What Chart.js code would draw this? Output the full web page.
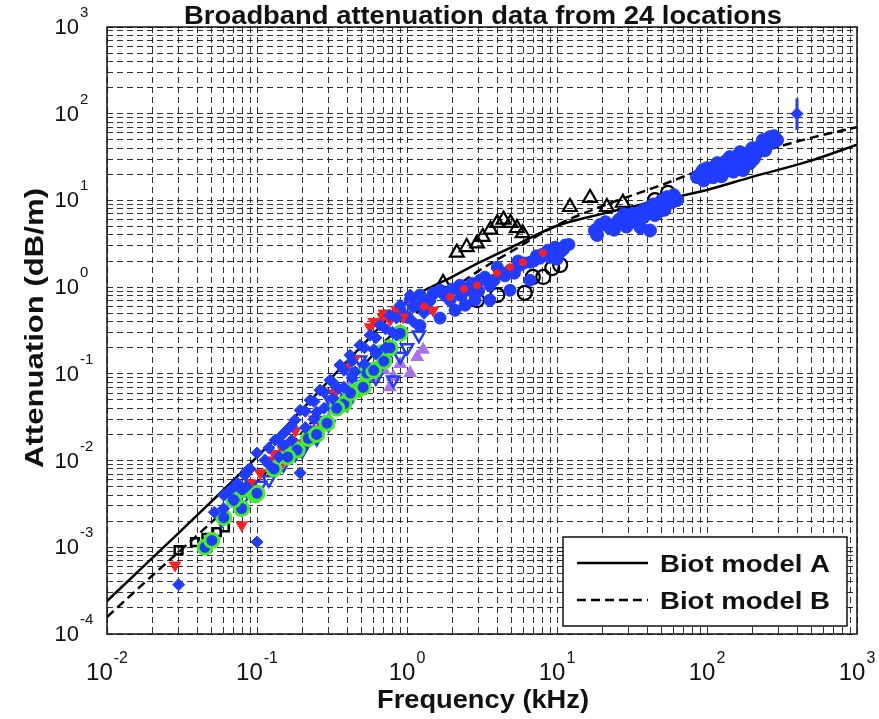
<!DOCTYPE html>
<html><head><meta charset="utf-8">
<script src="https://cdn.jsdelivr.net/npm/chart.js@4.4.1/dist/chart.umd.min.js"></script>
<style>html,body{margin:0;padding:0;background:#fff;overflow:hidden}#wrap{width:879px;height:719px}</style>
</head><body><div id="wrap"><canvas id="c" width="879" height="719"></canvas></div>
<script>
// ---------- text ----------
const titleText = 'Broadband attenuation data from 24 locations';
const xTitle = 'Frequency (kHz)';
const yTitle = 'Attenuation (dB/m)';
const legendLabels = ['Biot model A', 'Biot model B'];
// ---------- ticks ----------
const xDecades = [-2, -1, 0, 1, 2, 3];
const yDecades = [-4, -3, -2, -1, 0, 1, 2, 3];
const minorMult = [1, 2, 3, 4, 5, 6, 7, 8, 9];
// ---------- model curves ----------
const modelFreq = [0.01,0.02,0.03,0.05,0.1,0.2,0.3,0.5,1,2,3,5,10,20,50,100,200,500,1000];
const modelA = [2.4e-4,7.5e-4,1.46e-3,3.4e-3,0.011,0.039,0.083,0.21,0.69,1.31,1.9,2.9,5.1,7.0,10.1,13.2,18.7,29,44];
const modelB = [1.57e-4,4.7e-4,8.8e-4,1.96e-3,5.7e-3,0.021,0.046,0.12,0.42,0.95,1.54,2.6,5.2,8.6,15.1,23.7,34,53,70];
// ---------- measured data (frequency kHz, attenuation dB/m) ----------
const blueStarF = [0.03,0.1,0.052,0.064,0.074,0.083,0.1,0.113,0.132,0.154,0.179,0.194,0.194,0.226,0.263,0.307,0.357,0.417,0.486,0.567,0.66,0.77,0.9,1.05,0.15,0.25,0.35,0.45,0.6,0.8,1.2,1.5,0.09,
  0.06,0.06,0.07,0.07,0.085,0.085,0.12,0.12,0.14,0.14,0.17,0.17,0.21,0.21,0.24,0.24,0.28,0.28,0.32,0.32,0.38,0.38,0.43,0.43,0.52,0.52,0.62,0.62,0.72,0.72,0.85,0.85,1.1,1.1,1.3,1.3,1.6];
const blueStarA = [3.7e-4,1.15e-3,2.54e-3,4.3e-3,5.5e-3,6.8e-3,0.0122,0.0101,0.0172,0.0213,0.0292,0.038,7.2e-3,0.0497,0.0649,0.0846,0.126,0.164,0.214,0.279,0.365,0.475,0.62,0.81,0.015,0.036,0.068,0.105,0.19,0.3,0.62,0.85,8e-3,
  4e-3,2.8e-3,5e-3,3.5e-3,7.5e-3,5e-3,0.014,9e-3,0.018,0.011,0.025,0.017,0.037,0.024,0.048,0.03,0.062,0.04,0.08,0.052,0.11,0.07,0.14,0.09,0.2,0.13,0.26,0.17,0.33,0.2,0.44,0.28,0.6,0.4,0.75,0.5,0.9];
const blueTriF = [0.66,0.81,1.0,0.486,0.417,0.307,0.263,0.226,0.154,0.105,0.069,0.058,0.55,0.72,0.12,0.18,0.35,0.9,1.2,0.08,0.5,0.62,0.15,0.2,0.25,0.3,0.4];
const blueTriA = [0.12,0.085,0.2,0.144,0.105,0.05,0.029,0.0224,0.0132,5.2e-3,4.2e-3,2.06e-3,0.09,0.15,6e-3,0.012,0.06,0.16,0.28,3.5e-3,0.075,0.09,9e-3,0.013,0.018,0.026,0.045];
const redTriF = [0.0284,0.079,0.122,0.105,0.149,0.142,0.203,0.275,0.398,0.567,0.77,0.94,1.49,0.51,0.69,0.33,0.45,0.6,0.7,0.85,1.1,0.18,0.24,0.13,0.09,0.07];
const redTriA = [6.2e-4,1.8e-3,0.0101,7.2e-3,0.0132,8.4e-3,0.0159,0.0243,0.12,0.346,0.416,0.45,0.54,0.102,0.45,0.06,0.15,0.4,0.5,0.55,0.6,0.022,0.03,0.012,5.5e-3,4e-3];
const redDotF = [1.94,2.93,3.98,4.86,5.93,8.07,1.3,2.4];
const redDotA = [0.77,1.05,1.45,1.7,1.94,2.47,0.6,0.95];
const greenF = [0.045,0.05,0.079,0.079,0.097,0.1,0.185,0.293,0.464,0.51,0.66,0.9,0.77,0.54,0.22,0.38,0.13,0.16,0.25,0.34,0.42,0.6,0.7,0.07,0.06];
const greenA = [1.0e-3,1.2e-3,2.8e-3,4.6e-3,4.0e-3,4.2e-3,0.0132,0.027,0.065,0.07,0.173,0.294,0.2,0.102,0.018,0.045,8e-3,0.011,0.02,0.04,0.06,0.11,0.14,3.5e-3,2.2e-3];
const purpleF = [0.398,1.28,0.417,0.77,1.05,0.307,0.398,0.44,1.17,0.81,0.3,0.5,0.6,0.9,0.2,0.7];
const purpleA = [0.05,0.19,0.065,0.07,0.102,0.046,0.06,0.085,0.156,0.092,0.03,0.08,0.09,0.13,0.015,0.11];
const blackSqF = [0.03,0.0386,0.046,0.054,0.061];
const blackSqA = [9.3e-4,1.15e-3,1.28e-3,1.5e-3,1.7e-3];
const blackTriF = [1.74,2.15,2.5,2.93,3.2,3.6,4.0,4.4,4.9,5.4,5.9,12.2,16.6,21.5,27.5];
const blackTriA = [1.12,2.5,2.9,3.2,3.8,4.6,5.5,6.0,5.5,4.8,4.2,8.4,10.7,8.4,9.4];
const blackCircF = [2.93,4.0,6.1,6.9,8.1,9.3,10.5,45,55];
const blackCircA = [0.71,0.81,0.86,1.31,1.31,1.66,1.8,10.1,12.2];
const blueMidF = [0.9,1.05,1.22,1.42,1.66,1.94,2.25,2.63,3.07,3.57,4.17,4.86,5.67,6.6,7.7,8.7,9.7,10.5,11.3,2.09,2.84,1.22,1.66,2.44,3.57,4.86,6.6,
  1.0,1.1,1.35,1.5,1.8,2.0,2.3,2.7,3.0,3.3,3.8,4.5,5.2,6.0,7.0,8.0,9.0,10,11,12,5.5,7.3,4.0];
const blueMidA = [0.54,0.71,0.81,0.71,0.92,0.71,1.05,0.92,1.2,1.05,1.49,1.57,1.79,1.94,2.16,2.67,2.89,2.53,3.05,0.54,0.71,0.36,0.44,0.62,0.71,0.92,1.2,
  0.45,0.6,0.6,0.85,0.8,0.95,0.8,1.1,0.9,1.3,1.2,1.35,1.45,1.9,2.0,2.4,2.2,2.1,2.7,3.1,2.0,2.3,1.7];
const blueHiF = [17.9,19.4,22.6,27.5,30.7,35.7,41.7,45,54,63,41.7,25,33,85.8,94,105,117,128,142,166,174,193,215,236,263,293,154,136,244,185,
  18.5,21,24,26,29,32,34,38,39,44,48,50,58,60,52,36,28,
  90,100,110,122,132,148,160,170,180,200,205,225,250,280,270,110,150,95,125,165];
const blueHiA = [4.5,5.2,4.8,6.4,5.6,7.3,8.4,6.8,10.9,10.1,4.5,5.5,6.5,18.6,22.4,20.6,26.9,20.6,31.6,36,22.4,26.9,35,49.6,53.7,49.6,25.5,24.9,38,30.7,
  4.0,5.6,4.6,6.0,5.0,7.0,5.8,6.5,8.0,9.0,7.5,10,9.5,11.5,7.8,4.9,6.9,
  20,23.5,24,22,28,27,30,28,34,40,30,42,45,55,47,18.5,21.5,17,19,24];
const errF = [398];
const errA = [100];
const errLow = [65];
const errHigh = [150];

// ---------- helpers ----------
const FONT = "'Liberation Sans', Arial, Helvetica, sans-serif";
const BLUE = '#1f3cff', RED = '#ff1f1f', GREEN = '#44ee22', PURPLE = '#a872ee';
const pts = (F, A) => F.map((f, i) => ({x: f, y: A[i]}));
const tickVals = (decs) => {
  const out = [];
  decs.forEach((e, k) => {
    if (k === decs.length - 1) { out.push(Math.pow(10, e)); return; }
    minorMult.forEach(m => out.push(Number((m * Math.pow(10, e)).toPrecision(6))));
  });
  return out;
};
const xTickVals = tickVals(xDecades);
const yTickVals = tickVals(yDecades);

function sText(ctx, text, x, y, font, targetW, align) {
  ctx.save();
  ctx.font = font;
  const w = ctx.measureText(text).width;
  const s = targetW ? targetW / w : 1;
  ctx.translate(x, y);
  ctx.scale(s, 1);
  ctx.textAlign = align || 'left';
  ctx.textBaseline = 'alphabetic';
  ctx.fillText(text, 0, 0);
  ctx.restore();
}
function powLabel(ctx, exp, x, y, baseFont, expFont, mode) {
  ctx.save();
  ctx.fillStyle = '#111';
  ctx.textBaseline = 'alphabetic';
  ctx.textAlign = 'left';
  ctx.font = baseFont; const w1 = ctx.measureText('10').width;
  ctx.font = expFont; const w2 = ctx.measureText(exp).width;
  const start = mode === 'center' ? x - (w1 + w2 + 1) / 2 : x - w1;
  ctx.font = baseFont; ctx.fillText('10', start, y);
  ctx.font = expFont; ctx.fillText(exp, start + w1 + 1, y - 17);
  ctx.restore();
}

const decor = {
  id: 'decor',
  afterDatasetsDraw(chart) {
    const {ctx, chartArea: a, scales: {x, y}} = chart;
    ctx.save();
    ctx.strokeStyle = '#111'; ctx.lineWidth = 1.5; ctx.setLineDash([]);
    ctx.strokeRect(a.left, a.top, a.right - a.left, a.bottom - a.top);
    // legend
    const L = {l: 563, t: 537, r: 847, b: 626};
    ctx.fillStyle = '#fff';
    ctx.fillRect(L.l, L.t, L.r - L.l, L.b - L.t);
    ctx.strokeRect(L.l, L.t, L.r - L.l, L.b - L.t);
    ctx.strokeStyle = '#000'; ctx.lineWidth = 2.5;
    ctx.beginPath(); ctx.moveTo(577, 563); ctx.lineTo(648, 563); ctx.stroke();
    ctx.setLineDash([9, 5]);
    ctx.beginPath(); ctx.moveTo(577, 600); ctx.lineTo(648, 600); ctx.stroke();
    ctx.setLineDash([]);
    ctx.fillStyle = '#111';
    sText(ctx, legendLabels[0], 660, 572, `bold 24px ${FONT}`, 170, 'left');
    sText(ctx, legendLabels[1], 660, 609, `bold 24px ${FONT}`, 170, 'left');
    // tick labels
    xDecades.forEach(e => {
      powLabel(ctx, String(e), x.getPixelForValue(Math.pow(10, e)), 680, `24px ${FONT}`, `16px ${FONT}`, 'center');
    });
    yDecades.forEach(e => {
      powLabel(ctx, String(e), 79, y.getPixelForValue(Math.pow(10, e)) + 7, `22px ${FONT}`, `15px ${FONT}`, 'right');
    });
    // titles
    ctx.fillStyle = '#111';
    sText(ctx, titleText, 483, 24, `bold 25px ${FONT}`, 598, 'center');
    sText(ctx, xTitle, 483, 708, `bold 25px ${FONT}`, 212, 'center');
    ctx.save();
    ctx.translate(43, 328);
    ctx.rotate(-Math.PI / 2);
    sText(ctx, yTitle, 0, 0, `bold 25px ${FONT}`, 280, 'center');
    ctx.restore();
    ctx.restore();
  }
};

const gridColor = 'rgba(0,0,0,0.8)';
const scaleOpts = (min, max, vals) => ({
  type: 'logarithmic', min, max,
  afterBuildTicks: s => { s.ticks = vals.map(v => ({value: v})); },
  ticks: {display: false},
  grid: {color: gridColor, lineWidth: 1, drawTicks: false},
  border: {display: false, dash: [6, 4]}
});

const ds = [
  {type: 'line', label: legendLabels[0], data: pts(modelFreq, modelA), borderColor: '#000', borderWidth: 2.5, pointRadius: 0, cubicInterpolationMode: 'monotone', order: 20},
  {type: 'line', label: legendLabels[1], data: pts(modelFreq, modelB), borderColor: '#000', borderWidth: 2.5, borderDash: [9, 5], pointRadius: 0, cubicInterpolationMode: 'monotone', order: 20},
  {label: 'black squares', data: pts(blackSqF, blackSqA), pointStyle: 'rect', pointRadius: 5.5, borderColor: '#000', borderWidth: 2.5, backgroundColor: 'rgba(0,0,0,0)', order: 9},
  {label: 'black triangles', data: pts(blackTriF, blackTriA), pointStyle: 'triangle', pointRadius: 8, borderColor: '#000', borderWidth: 2.2, backgroundColor: 'rgba(0,0,0,0)', order: 9},
  {label: 'black circles', data: pts(blackCircF, blackCircA), pointStyle: 'circle', pointRadius: 7, borderColor: '#000', borderWidth: 2.2, backgroundColor: 'rgba(0,0,0,0)', order: 9},
  {label: 'blue mid', data: pts(blueMidF, blueMidA), pointStyle: 'circle', pointRadius: 6, borderColor: BLUE, borderWidth: 1, backgroundColor: BLUE, order: 8},
  {label: 'blue high', data: pts(blueHiF, blueHiA), pointStyle: 'circle', pointRadius: 6.5, borderColor: BLUE, borderWidth: 1, backgroundColor: BLUE, order: 8},
  {label: 'purple', data: pts(purpleF, purpleA), pointStyle: 'triangle', pointRadius: 6.5, borderColor: PURPLE, borderWidth: 1.5, backgroundColor: PURPLE, order: 7},
  {label: 'blue triangles', data: pts(blueTriF, blueTriA), pointStyle: 'triangle', rotation: 180, pointRadius: 7, borderColor: BLUE, borderWidth: 2.5, backgroundColor: 'rgba(0,0,0,0)', order: 6},
  {label: 'red triangles', data: pts(redTriF, redTriA), pointStyle: 'triangle', rotation: 180, pointRadius: 6.5, borderColor: RED, borderWidth: 1, backgroundColor: RED, order: 5},
  {label: 'green circles', data: pts(greenF, greenA), pointStyle: 'circle', pointRadius: 7, borderColor: GREEN, borderWidth: 3, backgroundColor: BLUE, order: 4},
  {label: 'blue stars', data: pts(blueStarF, blueStarA), pointStyle: 'rectRot', pointRadius: 6, borderColor: BLUE, borderWidth: 1, backgroundColor: BLUE, order: 3},
  {label: 'red dots', data: pts(redDotF, redDotA), pointStyle: 'circle', pointRadius: 3.5, borderColor: RED, borderWidth: 1, backgroundColor: RED, order: 2},
  {type: 'line', label: 'error bar', data: [{x: errF[0], y: errLow[0]}, {x: errF[0], y: errHigh[0]}], borderColor: BLUE, borderWidth: 3, pointRadius: 0, order: 1},
  {label: 'error point', data: pts(errF, errA), pointStyle: 'rectRot', pointRadius: 6, borderColor: BLUE, borderWidth: 1, backgroundColor: BLUE, order: 1}
];

new Chart(document.getElementById('c').getContext('2d'), {
  type: 'scatter',
  data: {datasets: ds},
  options: {
    responsive: false, animation: false, devicePixelRatio: 1,
    layout: {padding: {left: 107, top: 27, right: 22, bottom: 85}},
    plugins: {legend: {display: false}, tooltip: {enabled: false}, title: {display: false}},
    scales: {x: scaleOpts(0.01, 1000, xTickVals), y: scaleOpts(1e-4, 1000, yTickVals)}
  },
  plugins: [decor]
});
</script></body></html>
